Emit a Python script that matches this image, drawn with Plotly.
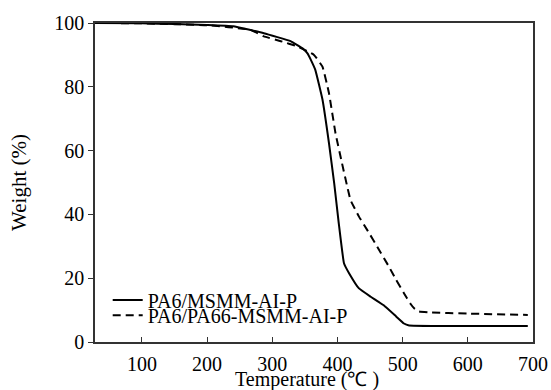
import plotly.graph_objects as go

# Solid curve: PA6/MSMM-AI-P
t_solid = [28, 100, 150, 200, 240, 287, 328, 348, 354, 359, 366, 377, 387, 395, 402, 410,
           418, 433, 451, 471, 490, 502, 510, 600, 692]
w_solid = [100, 99.9, 99.7, 99.4, 99.0, 96.8, 94.3, 91.8, 90.5, 88.5, 85.3, 76, 62.3, 49.7, 37.2, 24.7,
           21.5, 16.8, 14.2, 11.5, 8, 5.8, 5.2, 5.0, 5.0]

# Dashed curve: PA6/PA66-MSMM-AI-P
t_dash = [28, 100, 200, 266, 287, 313, 338, 364, 377, 387, 397, 407, 415, 420, 433, 446, 461,
          479, 490, 502, 512, 518, 525, 540, 600, 692]
w_dash = [100, 99.9, 99.3, 97.9, 95.8, 94.3, 92.7, 90, 86.3, 78, 65.4, 56, 48.7, 44.5, 39.3, 35, 29.9,
          23.6, 19.5, 15.3, 12, 10.5, 9.6, 9.3, 8.9, 8.5]

series_names = ["PA6/MSMM-AI-P", "PA6/PA66-MSMM-AI-P"]
x_ticks = [100, 200, 300, 400, 500, 600, 700]
y_ticks = [0, 20, 40, 60, 80, 100]
x_title = "Temperature (℃ )"
y_title = "Weight (%)"

FONT = "Liberation Serif"

fig = go.Figure()
fig.add_trace(go.Scatter(x=t_solid, y=w_solid, mode="lines", name=series_names[0], legend="legend",
                         line=dict(color="black", width=2, shape="spline", smoothing=0.3)))
fig.add_trace(go.Scatter(x=t_dash, y=w_dash, mode="lines", name=series_names[1], legend="legend2",
                         line=dict(color="black", width=2, dash="8px,5px", shape="spline", smoothing=0.3)))

leg_common = dict(xanchor="left", yanchor="middle", bgcolor="rgba(0,0,0,0)",
                  font=dict(size=20, family=FONT), itemwidth=30)

fig.update_layout(
    width=551, height=390,
    margin=dict(l=95, r=18, t=23, b=48),
    paper_bgcolor="white", plot_bgcolor="white",
    font=dict(family=FONT, size=20, color="black"),
    showlegend=True,
    legend=dict(x=0.029, y=0.132, **leg_common),
    legend2=dict(x=0.029, y=0.084, **leg_common),
    xaxis=dict(range=[28, 700], tickvals=x_ticks, ticks="inside", ticklen=5, tickwidth=1,
               tickcolor="#333", showline=True, linecolor="#333", linewidth=1.5, mirror=True,
               showgrid=False, zeroline=False, automargin=False, ticklabelstandoff=3),
    yaxis=dict(range=[0, 100], tickvals=y_ticks, ticks="outside", ticklen=5, tickwidth=1,
               tickcolor="#333", showline=True, linecolor="#333", linewidth=1.5, mirror=True,
               showgrid=False, zeroline=False, automargin=False,
               title=dict(text=y_title, font=dict(size=21), standoff=22)),
    annotations=[dict(text=x_title, xref="paper", yref="paper", x=0.484, y=-0.16,
                      xanchor="center", yanchor="bottom", showarrow=False,
                      font=dict(size=20, family=FONT))],
)

fig.write_html("out.html", config={"displayModeBar": False},
               post_script="document.body.style.margin='0';")
